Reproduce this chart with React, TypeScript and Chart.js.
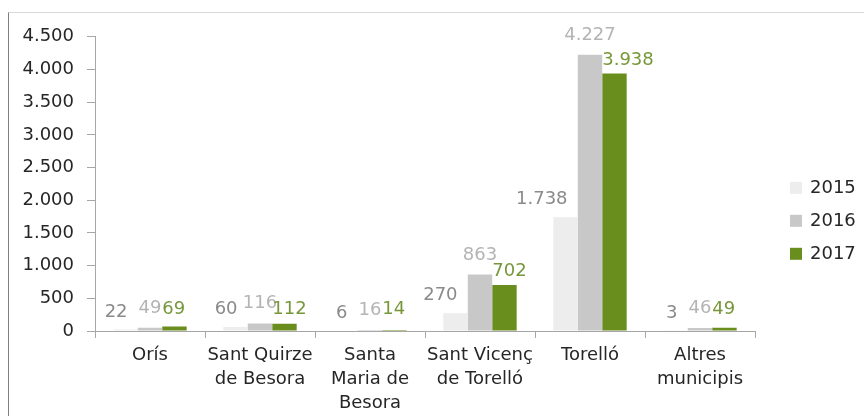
import React, { useEffect, useRef } from "react";
import { Chart, registerables } from "chart.js";

Chart.register(...registerables);

const categories: string[][] = [
  ["Orís"],
  ["Sant Quirze", "de Besora"],
  ["Santa", "Maria de", "Besora"],
  ["Sant Vicenç", "de Torelló"],
  ["Torelló"],
  ["Altres", "municipis"],
];
const years = ["2015", "2016", "2017"];
const values2015 = [22, 60, 6, 270, 1738, 3];
const values2016 = [49, 116, 16, 863, 4227, 46];
const values2017 = [69, 112, 14, 702, 3938, 49];
const yMax = 4500;
const yStep = 500;

const barColors = ["#EDEDED", "#C8C8C8", "#6A8E1E"];
const labelColors = ["#8A8A8A", "#B4B4B4", "#77983A"];
const FONT = "DejaVu Sans";

const fmt = (v: number) => String(v).replace(/\B(?=(\d{3})+(?!\d))/g, ".");

const labelPlugin = {
  id: "barLabels",
  afterDatasetsDraw(chart: any) {
    const ctx = chart.ctx;
    const base = chart.scales.y.getPixelForValue(0);
    ctx.save();
    ctx.font = `18px "${FONT}"`;
    ctx.textBaseline = "alphabetic";
    chart.data.datasets.forEach((ds: any, di: number) => {
      const meta = chart.getDatasetMeta(di);
      meta.data.forEach((bar: any, i: number) => {
        const v = ds.data[i] as number;
        const { x, y, width } = bar.getProps(["x", "y", "width"], true);
        ctx.fillStyle = labelColors[di];
        let tx = x;
        let by = y;
        if (di === 0) {
          ctx.textAlign = "right";
          tx = x + 2;
          by = Math.min(y - 13, base - 12);
        } else if (di === 1) {
          ctx.textAlign = "center";
          by = Math.min(y - 15, base - 15);
        } else {
          ctx.textAlign = "left";
          tx = x - width / 2;
          by = Math.min(y - 9, base - 17);
        }
        ctx.fillText(fmt(v), tx, by);
      });
    });
    ctx.restore();
  },
};

const legendPlugin = {
  id: "sideLegend",
  afterDraw(chart: any) {
    const ctx = chart.ctx;
    const area = chart.chartArea;
    ctx.save();
    ctx.font = `18px "${FONT}"`;
    ctx.textBaseline = "middle";
    ctx.textAlign = "left";
    years.forEach((yr, i) => {
      const cy = area.top + 151 + i * 33;
      const bx = area.right + 35;
      ctx.fillStyle = barColors[i];
      ctx.fillRect(bx, cy - 6, 12, 12);
      ctx.fillStyle = "#262626";
      ctx.fillText(yr, bx + 20, cy + 1);
    });
    ctx.restore();
  },
};

export default function App() {
  const ref = useRef<HTMLCanvasElement>(null);
  useEffect(() => {
    if (!ref.current) return;
    const series = [values2015, values2016, values2017];
    const chart = new Chart(ref.current, {
      type: "bar",
      data: {
        labels: categories,
        datasets: years.map((yr, i) => ({
          label: yr,
          data: series[i],
          backgroundColor: barColors[i],
          borderWidth: 0,
          barPercentage: 1,
          categoryPercentage: 0.667,
        })),
      },
      options: {
        responsive: false,
        animation: false,
        layout: { padding: { top: 20, right: 109, bottom: 0, left: 0 } },
        plugins: {
          legend: { display: false },
          tooltip: { enabled: false },
        },
        scales: {
          x: {
            grid: {
              display: true,
              drawOnChartArea: false,
              drawTicks: true,
              tickLength: 7,
              color: "#A6A6A6",
              offset: true,
            },
            border: { display: true, color: "#A6A6A6", width: 1 },
            ticks: {
              color: "#262626",
              font: { family: FONT, size: 18, lineHeight: 1.33 },
              padding: 5,
              maxRotation: 0,
              autoSkip: false,
            },
            afterFit(scale: any) {
              scale.height = 85;
            },
          },
          y: {
            min: 0,
            max: yMax,
            grid: {
              display: true,
              drawOnChartArea: false,
              drawTicks: true,
              tickLength: 8,
              color: "#A6A6A6",
            },
            border: { display: true, color: "#A6A6A6", width: 1 },
            ticks: {
              stepSize: yStep,
              color: "#262626",
              font: { family: FONT, size: 18 },
              padding: 13,
              callback: (v: any) => fmt(Number(v)),
            },
            afterFit(scale: any) {
              scale.width = 86;
            },
          },
        },
      },
      plugins: [labelPlugin, legendPlugin],
    });
    return () => chart.destroy();
  }, []);

  return (
    <div
      style={{
        position: "fixed",
        left: 8,
        top: 12,
        width: 856,
        height: 404,
        boxSizing: "border-box",
        borderLeft: "1px solid #7F7F7F",
        borderTop: "1px solid #D9D9D9",
        background: "#FFFFFF",
      }}
    >
      <canvas ref={ref} width={855} height={403} style={{ display: "block" }} />
    </div>
  );
}
